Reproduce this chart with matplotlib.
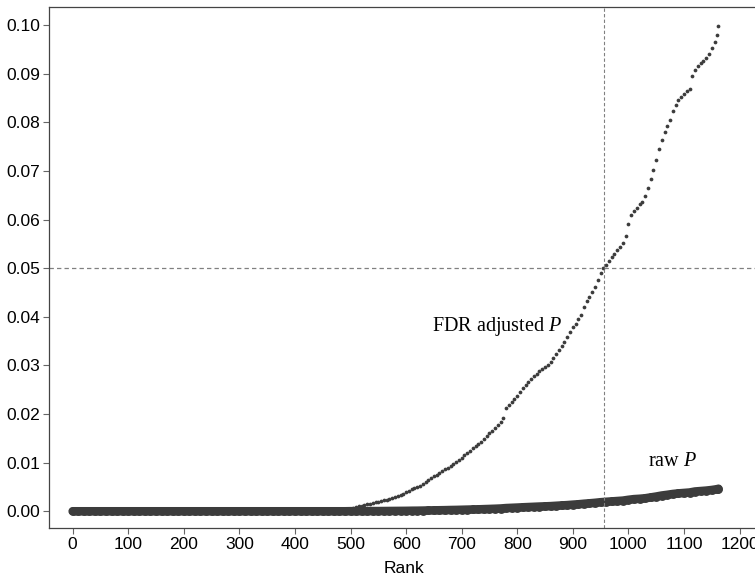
import matplotlib
matplotlib.use("Agg")
import matplotlib.pyplot as plt

# raw P values, ranks 0..1160 step 10, then the last rank 1162
raw_rank = list(range(0, 1161, 10)) + [1162]
raw_p = [
    0.0, 0.0, 0.0, 0.0, 0.0, 0.0, 0.0, 0.0, 0.0, 0.0,
    0.0, 0.0, 0.0, 0.0, 0.0, 0.0, 0.0, 0.0, 0.0, 0.0,
    0.0, 0.0, 0.0, 0.0, 0.0, 0.0, 0.0, 0.0, 0.0, 0.0,
    0.0, 0.0, 0.0, 0.0, 0.0, 0.0, 0.0, 0.0, 0.0, 0.0,
    0.0, 0.0, 0.0, 0.0, 0.0, 0.0, 0.0, 0.0, 0.0, 0.0,
    0.00002, 0.00002, 0.00003, 0.00003, 0.00004, 0.00004, 0.00005, 0.00006, 0.00007, 0.00008,
    0.00009, 0.00011, 0.00012, 0.00014, 0.00017, 0.00019, 0.00021, 0.00023, 0.00026, 0.00028,
    0.00031, 0.00034, 0.00037, 0.00040, 0.00044, 0.00048, 0.00052, 0.00057, 0.00066, 0.00071,
    0.00076, 0.00082, 0.00087, 0.00092, 0.00097, 0.00101, 0.00106, 0.00113, 0.00120, 0.00127,
    0.00136, 0.00144, 0.00155, 0.00164, 0.00174, 0.00186, 0.00195, 0.00203, 0.00211, 0.00219,
    0.00236, 0.00250, 0.00257, 0.00267, 0.00285, 0.00303, 0.00324, 0.00339, 0.00356, 0.00368,
    0.00377, 0.00386, 0.00407, 0.00416, 0.00425, 0.00438, 0.00455,
    0.00464,
]

# FDR adjusted P, ranks 480..1160 step 5, then 1162 (lower ranks sit under the raw band)
fdr_rank = list(range(480, 1161, 5)) + [1162]
fdr_p = [
    0.0001, 0.0002, 0.0003, 0.0004, 0.0005, 0.0007, 0.0008, 0.0010, 0.0011, 0.0013,
    0.0014, 0.0016, 0.0017, 0.0019, 0.0020, 0.0021, 0.0023, 0.0024, 0.0026, 0.0028,
    0.0030, 0.0032, 0.0033, 0.0036, 0.0039, 0.0042, 0.0045, 0.0048, 0.0050, 0.0053,
    0.0057, 0.0061, 0.0065, 0.0069, 0.0072, 0.0075, 0.0078, 0.0082, 0.0086, 0.0090,
    0.0094, 0.0098, 0.0102, 0.0106, 0.0110, 0.0115, 0.0120, 0.0125, 0.0130, 0.0134,
    0.0138, 0.0142, 0.0148, 0.0154, 0.0160, 0.0166, 0.0172, 0.0178, 0.0184, 0.0192,
    0.0213, 0.0218, 0.0224, 0.0230, 0.0238, 0.0246, 0.0254, 0.0260, 0.0266, 0.0272,
    0.0278, 0.0283, 0.0288, 0.0292, 0.0297, 0.0301, 0.0307, 0.0316, 0.0324, 0.0332,
    0.0340, 0.0349, 0.0358, 0.0368, 0.0378, 0.0386, 0.0395, 0.0404, 0.0420, 0.0432,
    0.0441, 0.0450, 0.0462, 0.0476, 0.0490, 0.0500, 0.0507, 0.0514, 0.0522, 0.0530,
    0.0538, 0.0543, 0.0552, 0.0566, 0.0590, 0.0610, 0.0617, 0.0624, 0.0631, 0.0636,
    0.0648, 0.0665, 0.0684, 0.0702, 0.0722, 0.0745, 0.0764, 0.0779, 0.0792, 0.0805,
    0.0824, 0.0836, 0.0845, 0.0852, 0.0858, 0.0864, 0.0869, 0.0895, 0.0908, 0.0915,
    0.0921, 0.0927, 0.0932, 0.0940, 0.0952, 0.0965, 0.0980,
    0.0998,
]

cutoff_rank = 956
cutoff_p = 0.05
x_ticks = [0, 100, 200, 300, 400, 500, 600, 700, 800, 900, 1000, 1100, 1200]
y_ticks = [0.00, 0.01, 0.02, 0.03, 0.04, 0.05, 0.06, 0.07, 0.08, 0.09, 0.10]


def main():
    plt.rcParams["font.family"] = ["Liberation Sans", "DejaVu Sans"]
    plt.rcParams["mathtext.fontset"] = "custom"
    plt.rcParams["mathtext.rm"] = "Liberation Serif"
    plt.rcParams["mathtext.it"] = "Liberation Serif:italic"

    fig = plt.figure(figsize=(7.55, 5.85), dpi=100)
    # right edge runs past the figure, as in the reference (1200 label is cut)
    ax = fig.add_axes([0.0649, 0.0969, 1.02 - 0.0649, 0.988 - 0.0969])

    dark = "#3c3c3c"
    # raw P: big overlapping dots form a thick band
    ax.plot(raw_rank, raw_p, "-o", color=dark, markersize=6.4, linewidth=6.2,
            markeredgewidth=0, solid_capstyle="round")
    ax.plot(fdr_rank, fdr_p, "o", color=dark, markersize=2.7, markeredgewidth=0)

    ax.axhline(cutoff_p, color="#808080", linestyle=(0, (3.5, 2.5)), linewidth=0.9)
    ax.axvline(cutoff_rank, color="#808080", linestyle=(0, (3, 2)), linewidth=0.8)

    ax.text(764, 0.0379, "FDR adjusted $P$", family="Liberation Serif",
            fontsize=14.5, ha="center", va="center")
    ax.text(1079, 0.0103, "raw $P$", family="Liberation Serif",
            fontsize=14.5, ha="center", va="center")

    ax.set_xlim(-42.6, 1255)
    ax.set_ylim(-0.0035, 0.1037)
    ax.set_xticks(x_ticks)
    ax.set_yticks(y_ticks)
    ax.set_yticklabels([f"{v:.2f}" for v in y_ticks])
    ax.tick_params(labelsize=12.5, length=4.5, color="#666666", direction="out", pad=2)
    ax.set_xlabel("Rank", fontsize=12.5, labelpad=1)
    ax.xaxis.set_label_coords(0.492, -0.062)

    for side in ["left", "top", "bottom"]:
        ax.spines[side].set_color("#444444")
        ax.spines[side].set_linewidth(0.9)
    ax.spines["right"].set_visible(False)

    fig.savefig("out.png", dpi=100)


if __name__ == "__main__":
    main()
